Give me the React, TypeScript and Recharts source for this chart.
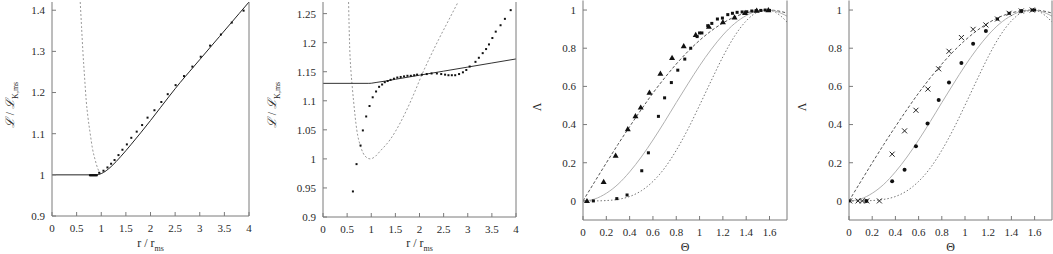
import React from 'react';
import { ComposedChart, Line, Scatter, XAxis, YAxis } from 'recharts';

const FONT = '"Liberation Serif", "Times New Roman", serif';
const W = 1053;
const H = 254;
const FRAME = '#7a7a7a';
const TEXT = '#2a2a2a';

// ---------- Panel 1 ----------
const p1XTicks = [0, 0.5, 1, 1.5, 2, 2.5, 3, 3.5, 4];
const p1YTicks = [0.9, 1, 1.1, 1.2, 1.3, 1.4];
const p1LineX = [0, 0.8, 0.9, 1.0, 1.1, 1.2, 1.4, 1.6, 1.8, 2.0, 2.2, 2.4, 2.6, 2.8, 3.0, 3.2, 3.4, 3.6, 3.8, 4.0];
const p1LineY = [1, 1, 1.0, 1.003, 1.01, 1.02, 1.045, 1.073, 1.102, 1.132, 1.163, 1.194, 1.224, 1.252, 1.28, 1.308, 1.336, 1.364, 1.392, 1.42];
const p1KepX = [0.573, 0.6, 0.627, 0.66, 0.695, 0.73, 0.776, 0.82, 0.877, 0.93, 0.98, 1.0];
const p1KepY = [1.42, 1.36, 1.3, 1.24, 1.18, 1.14, 1.1, 1.065, 1.036, 1.015, 1.004, 1.0];
const p1DotX = [0.77, 0.79, 0.81, 0.83, 0.85, 0.87, 0.89, 0.91, 0.958, 1.045, 1.126, 1.2, 1.27, 1.35, 1.43, 1.52, 1.61, 1.72, 1.83, 1.94, 2.08, 2.22, 2.35, 2.51, 2.68, 2.85, 3.02, 3.21, 3.43, 3.65, 3.89];
const p1DotY = [0.999, 0.999, 0.999, 0.999, 0.999, 0.999, 0.999, 0.999, 1.005, 1.01, 1.018, 1.027, 1.036, 1.048, 1.061, 1.074, 1.09, 1.105, 1.121, 1.139, 1.157, 1.177, 1.196, 1.218, 1.24, 1.263, 1.287, 1.314, 1.341, 1.37, 1.399];

// ---------- Panel 2 ----------
const p2XTicks = [0, 0.5, 1, 1.5, 2, 2.5, 3, 3.5, 4];
const p2YTicks = [0.9, 0.95, 1, 1.05, 1.1, 1.15, 1.2, 1.25];
const p2LineX = [0, 0.95, 1.0, 1.1, 1.3, 1.5, 2, 2.5, 3, 3.5, 4];
const p2LineY = [1.13, 1.13, 1.1302, 1.1315, 1.134, 1.137, 1.144, 1.151, 1.158, 1.165, 1.172];
const p2KepX = [0.53, 0.55, 0.58, 0.6, 0.633, 0.7, 0.785, 0.87, 0.977, 1.08, 1.18, 1.39, 1.6, 1.8, 1.91, 2.05, 2.2, 2.4, 2.6, 2.8];
const p2KepY = [1.27, 1.2, 1.15, 1.13, 1.1, 1.05, 1.02, 1.005, 1.0, 1.004, 1.013, 1.033, 1.062, 1.096, 1.117, 1.145, 1.172, 1.206, 1.238, 1.27];
const p2DotX = [0.62, 0.695, 0.778, 0.826, 0.895, 0.964, 1.03, 1.1, 1.163, 1.225, 1.28, 1.34, 1.4, 1.47, 1.54, 1.61, 1.68, 1.75, 1.82, 1.89, 1.95, 2.05, 2.15, 2.25, 2.36, 2.45, 2.53, 2.6, 2.67, 2.74, 2.82, 2.9, 2.97, 3.04, 3.16, 3.23, 3.31, 3.38, 3.44, 3.51, 3.58, 3.68, 3.77, 3.89];
const p2DotY = [0.944, 0.991, 1.023, 1.049, 1.073, 1.091, 1.106, 1.116, 1.124, 1.128, 1.132, 1.134, 1.136, 1.138, 1.14, 1.141, 1.142, 1.143, 1.143, 1.144, 1.145, 1.145, 1.146, 1.147, 1.147, 1.146, 1.145, 1.144, 1.144, 1.144, 1.146, 1.149, 1.153, 1.159, 1.167, 1.174, 1.182, 1.189, 1.197, 1.208, 1.219, 1.23, 1.241, 1.256];

// ---------- Panels 3 & 4 (shared curves) ----------
const thXTicks = [0, 0.2, 0.4, 0.6, 0.8, 1, 1.2, 1.4, 1.6];
const thYTicks = [0, 0.2, 0.4, 0.6, 0.8, 1];
const curveX = [0, 0.1, 0.2, 0.3, 0.4, 0.5, 0.6, 0.7, 0.8, 0.9, 1.0, 1.1, 1.2, 1.3, 1.4, 1.5, 1.6, 1.7, 1.75];
const curveUpperY = [0, 0.1, 0.199, 0.296, 0.389, 0.479, 0.565, 0.644, 0.717, 0.783, 0.841, 0.891, 0.932, 0.964, 0.985, 0.997, 1.0, 0.992, 0.984];
const curveMidY = [0, 0.01, 0.04, 0.087, 0.152, 0.23, 0.319, 0.415, 0.515, 0.613, 0.708, 0.794, 0.869, 0.929, 0.971, 0.995, 0.999, 0.983, 0.968];
const curveLowY = [0, 0.0001, 0.002, 0.008, 0.023, 0.053, 0.102, 0.172, 0.265, 0.376, 0.501, 0.63, 0.755, 0.863, 0.943, 0.989, 0.998, 0.967, 0.937];

// Panel 3 markers
const p3TriX = [0.034, 0.177, 0.28, 0.384, 0.45, 0.495, 0.57, 0.664, 0.764, 0.864, 0.967, 1.08, 1.2, 1.3, 1.39, 1.49, 1.59];
const p3TriY = [0, 0.1, 0.238, 0.377, 0.445, 0.49, 0.568, 0.667, 0.75, 0.812, 0.87, 0.913, 0.937, 0.962, 0.986, 0.997, 1.0];
const p3SqX = [0.089, 0.29, 0.378, 0.504, 0.561, 0.647, 0.7, 0.758, 0.813, 0.873, 0.924, 0.979, 1.0, 1.02, 1.07, 1.105, 1.153, 1.196, 1.242, 1.282, 1.322, 1.365, 1.405, 1.448, 1.485, 1.525, 1.563, 1.6];
const p3SqY = [0, 0.012, 0.031, 0.158, 0.252, 0.443, 0.54, 0.62, 0.685, 0.743, 0.8, 0.861, 0.88, 0.88, 0.918, 0.93, 0.953, 0.958, 0.976, 0.983, 0.988, 0.99, 0.991, 0.995, 0.997, 0.998, 1.0, 0.998];

// Panel 4 markers
const p4CrossX = [0.006, 0.078, 0.115, 0.153, 0.262, 0.372, 0.479, 0.577, 0.68, 0.773, 0.862, 0.969, 1.07, 1.18, 1.28, 1.38, 1.485, 1.58];
const p4CrossY = [0, 0, 0, 0, 0, 0.245, 0.367, 0.475, 0.586, 0.692, 0.784, 0.856, 0.899, 0.922, 0.953, 0.983, 0.995, 1.0];
const p4DotX = [0.15, 0.372, 0.479, 0.577, 0.677, 0.773, 0.862, 0.969, 1.07, 1.18, 1.485];
const p4DotY = [0, 0.103, 0.163, 0.287, 0.405, 0.529, 0.621, 0.723, 0.823, 0.89, 0.995];
const p4SqX = [0.0, 1.28, 1.38, 1.58, 1.6];
const p4SqY = [0, 0.953, 0.983, 1.0, 1.0];

type Pt = { x: number; y: number };
const zip = (xs: number[], ys: number[]): Pt[] => xs.map((x, i) => ({ x, y: ys[i] }));

const squareShape = (size: number) => (p: any) => (
  <rect x={p.cx - size / 2} y={p.cy - size / 2} width={size} height={size} fill="#111" />
);
const triShape = (p: any) => (
  <polygon points={`${p.cx},${p.cy - 3} ${p.cx - 3},${p.cy + 2.2} ${p.cx + 3},${p.cy + 2.2}`} fill="#111" />
);
const crossShape = (p: any) => (
  <g stroke="#222" strokeWidth={1}>
    <line x1={p.cx - 2.5} y1={p.cy - 2.5} x2={p.cx + 2.5} y2={p.cy + 2.5} />
    <line x1={p.cx - 2.5} y1={p.cy + 2.5} x2={p.cx + 2.5} y2={p.cy - 2.5} />
  </g>
);
const circleShape = (p: any) => <circle cx={p.cx} cy={p.cy} r={2} fill="#111" />;

type Rect = { left: number; right: number; top: number; bottom: number };

function Frame({
  rect,
  xDomain,
  yDomain,
  xTicks,
  yTicks,
  children,
}: {
  rect: Rect;
  xDomain: [number, number];
  yDomain: [number, number];
  xTicks: number[];
  yTicks: number[];
  children: React.ReactNode;
}) {
  const tickStyle = { fontSize: 11, fill: TEXT, fontFamily: FONT };
  return (
    <div style={{ position: 'absolute', left: 0, top: 0, width: W, height: H }}>
      <ComposedChart width={W} height={H} margin={{ top: rect.top, right: 0, bottom: 0, left: 0 }} style={{ fontFamily: FONT }}>
        <XAxis
          xAxisId="b"
          type="number"
          dataKey="x"
          orientation="bottom"
          domain={xDomain}
          ticks={xTicks}
          interval={0}
          allowDataOverflow
          height={H - rect.bottom}
          tickSize={-4}
          tickMargin={12}
          axisLine={{ stroke: FRAME }}
          tickLine={{ stroke: FRAME }}
          tick={tickStyle}
        />
        <XAxis
          xAxisId="t"
          type="number"
          dataKey="x"
          orientation="top"
          domain={xDomain}
          ticks={xTicks}
          interval={0}
          allowDataOverflow
          height={0}
          tickSize={-4}
          axisLine={{ stroke: FRAME }}
          tickLine={{ stroke: FRAME }}
          tick={false}
        />
        <YAxis
          yAxisId="l"
          type="number"
          orientation="left"
          domain={yDomain}
          ticks={yTicks}
          interval={0}
          allowDataOverflow
          width={rect.left}
          tickSize={-4}
          tickMargin={11}
          axisLine={{ stroke: FRAME }}
          tickLine={{ stroke: FRAME }}
          tick={tickStyle}
        />
        <YAxis
          yAxisId="r"
          type="number"
          orientation="right"
          domain={yDomain}
          ticks={yTicks}
          interval={0}
          allowDataOverflow
          width={W - rect.right}
          tickSize={-4}
          axisLine={{ stroke: FRAME }}
          tickLine={{ stroke: FRAME }}
          tick={false}
        />
        {children}
      </ComposedChart>
    </div>
  );
}

const lineProps = {
  xAxisId: 'b',
  yAxisId: 'l',
  dataKey: 'y',
  type: 'monotone' as const,
  dot: false,
  activeDot: false,
  isAnimationActive: false,
};
const scatterProps = {
  xAxisId: 'b',
  yAxisId: 'l',
  dataKey: 'y',
  isAnimationActive: false,
};

const P1: Rect = { left: 52, right: 249, top: 2, bottom: 216 };
const P2: Rect = { left: 323, right: 516, top: 2, bottom: 217 };
const P3: Rect = { left: 583, right: 787, top: 0.5, bottom: 220 };
const P4: Rect = { left: 849, right: 1052, top: 0.5, bottom: 220 };

function TextAt({ cx, cy, rotate, children }: { cx: number; cy: number; rotate?: boolean; children: React.ReactNode }) {
  return (
    <div
      style={{
        position: 'absolute',
        left: cx,
        top: cy,
        transform: `translate(-50%, -50%)${rotate ? ' rotate(-90deg)' : ''}`,
        whiteSpace: 'nowrap',
        fontFamily: FONT,
        fontSize: 12,
        color: TEXT,
        lineHeight: '14px',
      }}
    >
      {children}
    </div>
  );
}

const LTitle = () => (
  <>
    <span style={{ fontStyle: 'italic' }}>ℒ</span> / <span style={{ fontStyle: 'italic' }}>ℒ</span>
    <sub style={{ fontSize: 8 }}>K,ms</sub>
  </>
);

const RTitle = () => (
  <>
    r / r<sub style={{ fontSize: 8 }}>ms</sub>
  </>
);

export default function App() {
  return (
    <div style={{ position: 'absolute', left: 0, top: 0, width: W, height: H, background: '#fff', overflow: 'hidden', fontFamily: FONT }}>
      <style>{`.recharts-text, .recharts-cartesian-axis-tick-value { font-family: ${FONT}; }`}</style>
      <Frame rect={P1} xDomain={[0, 4]} yDomain={[0.9, 1.42]} xTicks={p1XTicks} yTicks={p1YTicks}>
        <Line {...lineProps} data={zip(p1KepX, p1KepY)} stroke="#999" strokeWidth={1} strokeDasharray="2 2" />
        <Line {...lineProps} data={zip(p1LineX, p1LineY)} stroke="#222" strokeWidth={1} />
        <Scatter {...scatterProps} data={zip(p1DotX, p1DotY)} shape={squareShape(2)} />
      </Frame>
      <Frame rect={P2} xDomain={[0, 4]} yDomain={[0.9, 1.27]} xTicks={p2XTicks} yTicks={p2YTicks}>
        <Line {...lineProps} data={zip(p2KepX, p2KepY)} stroke="#999" strokeWidth={1} strokeDasharray="2 2" />
        <Line {...lineProps} data={zip(p2LineX, p2LineY)} stroke="#333" strokeWidth={1} />
        <Scatter {...scatterProps} data={zip(p2DotX, p2DotY)} shape={squareShape(2)} />
      </Frame>
      <Frame rect={P3} xDomain={[0, 1.75]} yDomain={[-0.1, 1.05]} xTicks={thXTicks} yTicks={thYTicks}>
        <Line {...lineProps} data={zip(curveX, curveUpperY)} stroke="#555" strokeWidth={1} strokeDasharray="3 2" />
        <Line {...lineProps} data={zip(curveX, curveMidY)} stroke="#b0b0b0" strokeWidth={1} />
        <Line {...lineProps} data={zip(curveX, curveLowY)} stroke="#777" strokeWidth={1} strokeDasharray="1.5 2" />
        <Scatter {...scatterProps} data={zip(p3TriX, p3TriY)} shape={triShape} />
        <Scatter {...scatterProps} data={zip(p3SqX, p3SqY)} shape={squareShape(3)} />
      </Frame>
      <Frame rect={P4} xDomain={[0, 1.75]} yDomain={[-0.1, 1.05]} xTicks={thXTicks} yTicks={thYTicks}>
        <Line {...lineProps} data={zip(curveX, curveUpperY)} stroke="#555" strokeWidth={1} strokeDasharray="3 2" />
        <Line {...lineProps} data={zip(curveX, curveMidY)} stroke="#b0b0b0" strokeWidth={1} />
        <Line {...lineProps} data={zip(curveX, curveLowY)} stroke="#777" strokeWidth={1} strokeDasharray="1.5 2" />
        <Scatter {...scatterProps} data={zip(p4CrossX, p4CrossY)} shape={crossShape} />
        <Scatter {...scatterProps} data={zip(p4DotX, p4DotY)} shape={circleShape} />
        <Scatter {...scatterProps} data={zip(p4SqX, p4SqY)} shape={squareShape(3)} />
      </Frame>

      <TextAt cx={13} cy={105} rotate><LTitle /></TextAt>
      <TextAt cx={275} cy={105} rotate><LTitle /></TextAt>
      <TextAt cx={537} cy={107} rotate>Λ</TextAt>
      <TextAt cx={802} cy={107} rotate>Λ</TextAt>

      <TextAt cx={(P1.left + P1.right) / 2} cy={246}><RTitle /></TextAt>
      <TextAt cx={(P2.left + P2.right) / 2} cy={246}><RTitle /></TextAt>
      <TextAt cx={(P3.left + P3.right) / 2} cy={247}>Θ</TextAt>
      <TextAt cx={(P4.left + P4.right) / 2} cy={247}>Θ</TextAt>
    </div>
  );
}
